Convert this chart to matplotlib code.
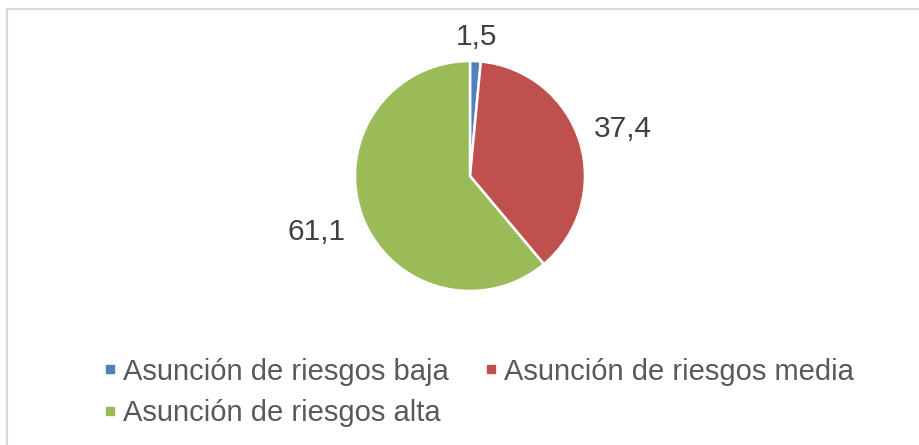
import numpy as np
import matplotlib.pyplot as plt
from matplotlib.lines import Line2D
from matplotlib.patches import Rectangle

plt.rcParams['font.family'] = ['Liberation Sans', 'DejaVu Sans']

# data
categories = ['Asunción de riesgos baja', 'Asunción de riesgos media', 'Asunción de riesgos alta']
values = [1.5, 37.4, 61.1]
value_labels = ['1,5', '37,4', '61,1']
colors = ['#4F81BD', '#C0504D', '#9BBB59']
label_dist = [1.21, 1.39, 1.42]

fig = plt.figure(figsize=(9.2, 4.45), dpi=100)

# chart border (light grey frame, cut off at right/bottom)
fig.patches.append(Rectangle((7.5 / 920, -0.1), 1.2, 1.1 - 9.5 / 445,
                             transform=fig.transFigure, fill=False,
                             edgecolor='#D9D9D9', linewidth=1.6))

ax = fig.add_axes([(470 - 115) / 920, (445 - 176 - 115) / 445, 230 / 920, 230 / 445])
wedges, _ = ax.pie(values, colors=colors, startangle=90, counterclock=False,
                   radius=1.0, wedgeprops=dict(edgecolor='white', linewidth=1.8))
ax.set_xlim(-1, 1)
ax.set_ylim(-1, 1)
ax.set_aspect('equal')
ax.axis('off')

for w, txt, d in zip(wedges, value_labels, label_dist):
    ang = np.deg2rad((w.theta1 + w.theta2) / 2)
    ax.text(d * np.cos(ang), d * np.sin(ang), txt, ha='center', va='center',
            fontsize=21.5, color='#404040', clip_on=False)

# legend: row 1 baja, media; row 2 alta
order = [0, 2, 1]
handles = [Line2D([], [], marker='s', linestyle='none', markersize=6,
                  markerfacecolor=colors[i], markeredgecolor=colors[i]) for i in order]
labels = [categories[i] for i in order]
leg = fig.legend(handles, labels, ncol=2, loc='upper left',
                 bbox_to_anchor=(92 / 920, 1 - 346 / 445), frameon=False,
                 fontsize=21, handlelength=0.45, handletextpad=0.2,
                 columnspacing=1.25, labelspacing=0.46, borderaxespad=0)
for t in leg.get_texts():
    t.set_color('#595959')

fig.savefig('out.png', dpi=100)
